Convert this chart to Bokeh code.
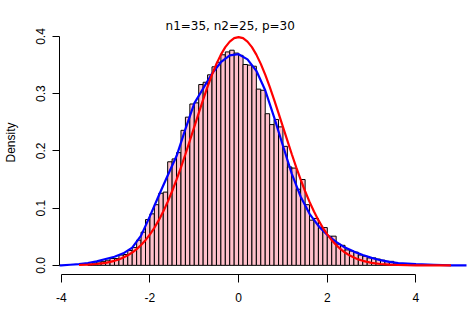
from bokeh.plotting import figure
from bokeh.models import Range1d, FixedTicker, Label
from bokeh.embed import file_html
from bokeh.resources import INLINE

# ---- data ----
title_text = "n1=35, n2=25, p=30"
y_axis_label = "Density"

bin_left = [-3.4, -3.3, -3.2, -3.1, -3.0, -2.9, -2.8, -2.7, -2.6, -2.5,
            -2.4, -2.3, -2.2, -2.1, -2.0, -1.9, -1.8, -1.7, -1.6, -1.5,
            -1.4, -1.3, -1.2, -1.1, -1.0, -0.9, -0.8, -0.7, -0.6, -0.5,
            -0.4, -0.3, -0.2, -0.1, 0.0, 0.1, 0.2, 0.3, 0.4, 0.5,
            0.6, 0.7, 0.8, 0.9, 1.0, 1.1, 1.2, 1.3, 1.4, 1.5,
            1.6, 1.7, 1.8, 1.9, 2.0, 2.1, 2.2, 2.3, 2.4, 2.5,
            2.6, 2.7, 2.8, 2.9, 3.0, 3.1, 3.2, 3.3, 3.4, 3.5]
bin_width = 0.1
density = [0.001, 0.004, 0.006, 0.007, 0.009, 0.012, 0.012, 0.018, 0.019, 0.026,
           0.031, 0.044, 0.058, 0.080, 0.090, 0.106, 0.126, 0.128, 0.181, 0.186,
           0.197, 0.236, 0.259, 0.282, 0.284, 0.316, 0.320, 0.333, 0.347, 0.355,
           0.368, 0.373, 0.376, 0.371, 0.367, 0.351, 0.350, 0.348, 0.308, 0.306,
           0.265, 0.246, 0.255, 0.242, 0.208, 0.172, 0.170, 0.133, 0.150, 0.106,
           0.079, 0.082, 0.066, 0.066, 0.051, 0.051, 0.037, 0.035, 0.027, 0.025,
           0.023, 0.018, 0.016, 0.013, 0.013, 0.011, 0.009, 0.007, 0.007, 0.004]

# kernel density estimate (blue)
kde_x = [-4.2, -4.0, -3.8, -3.6, -3.4, -3.2, -3.0, -2.8, -2.6, -2.4,
         -2.2, -2.0, -1.8, -1.6, -1.4, -1.2, -1.0, -0.8, -0.6, -0.4,
         -0.2, 0.0, 0.2, 0.4, 0.6, 0.8, 1.0, 1.2, 1.4, 1.6,
         1.8, 2.0, 2.2, 2.4, 2.6, 2.8, 3.0, 3.2, 3.4, 3.6,
         3.8, 4.0, 4.4, 4.8, 5.3]
kde_y = [0.000, 0.000, 0.001, 0.002, 0.004, 0.007, 0.011, 0.015, 0.021, 0.031,
         0.052, 0.086, 0.122, 0.157, 0.191, 0.238, 0.283, 0.309, 0.335, 0.355,
         0.367, 0.369, 0.360, 0.340, 0.306, 0.259, 0.209, 0.160, 0.120, 0.090,
         0.069, 0.053, 0.041, 0.031, 0.024, 0.018, 0.013, 0.009, 0.006, 0.004,
         0.003, 0.002, 0.001, 0.000, 0.000]

# normal density (red)
norm_x = [-3.6, -3.4, -3.2, -3.0, -2.9, -2.8, -2.7, -2.6, -2.5, -2.4,
          -2.3, -2.2, -2.1, -2.0, -1.9, -1.8, -1.7, -1.6, -1.5, -1.4,
          -1.3, -1.2, -1.1, -1.0, -0.9, -0.8, -0.7, -0.6, -0.5, -0.4,
          -0.3, -0.2, -0.1, 0.0, 0.1, 0.2, 0.3, 0.4, 0.5, 0.6,
          0.7, 0.8, 0.9, 1.0, 1.1, 1.2, 1.3, 1.4, 1.5, 1.6,
          1.7, 1.8, 1.9, 2.0, 2.1, 2.2, 2.3, 2.4, 2.5, 2.6,
          2.7, 2.8, 2.9, 3.0, 3.2, 3.4, 3.6, 3.8, 4.0, 4.4, 4.79]
norm_y = [0.0006, 0.0012, 0.0024, 0.0044, 0.0060, 0.0079, 0.0104, 0.0136, 0.0175, 0.0224,
          0.0283, 0.0355, 0.0440, 0.0540, 0.0656, 0.0790, 0.0940, 0.1109, 0.1295, 0.1497,
          0.1714, 0.1942, 0.2179, 0.2420, 0.2661, 0.2897, 0.3123, 0.3332, 0.3521, 0.3683,
          0.3814, 0.3910, 0.3970, 0.3989, 0.3970, 0.3910, 0.3814, 0.3683, 0.3521, 0.3332,
          0.3123, 0.2897, 0.2661, 0.2420, 0.2179, 0.1942, 0.1714, 0.1497, 0.1295, 0.1109,
          0.0940, 0.0790, 0.0656, 0.0540, 0.0440, 0.0355, 0.0283, 0.0224, 0.0175, 0.0136,
          0.0104, 0.0079, 0.0060, 0.0044, 0.0024, 0.0012, 0.0006, 0.0003, 0.0001, 0.0000, 0.0000]

x_ticks = [-4, -2, 0, 2, 4]
x_tick_labels = ["-4", "-2", "0", "2", "4"]
y_ticks = [0.0, 0.1, 0.2, 0.3, 0.4]
y_tick_labels = ["0.0", "0.1", "0.2", "0.3", "0.4"]

# ---- figure ----
p = figure(width=472, height=318, output_backend="svg", toolbar_location=None,
           x_range=Range1d(-4.04, 5.14), y_range=Range1d(-0.016, 0.4454),
           min_border_left=59, min_border_right=6, min_border_top=10,
           min_border_bottom=44)
p.outline_line_color = None
p.xgrid.visible = False
p.ygrid.visible = False
p.background_fill_color = "white"
p.border_fill_color = "white"

bin_right = [b + bin_width for b in bin_left]
p.quad(left=bin_left, right=bin_right, bottom=0, top=density,
       fill_color="#FFC0CB", line_color="black", line_width=1)
p.line(kde_x, kde_y, line_color="#0000FF", line_width=2.2)
p.line(norm_x, norm_y, line_color="#FF0000", line_width=2.2)

font = "Liberation Sans"
xa = p.xaxis[0]
xa.ticker = FixedTicker(ticks=x_ticks, minor_ticks=[])
xa.major_label_overrides = {t: l for t, l in zip(x_ticks, x_tick_labels)}
xa.bounds = (x_ticks[0], x_ticks[-1])
xa.major_tick_in = 0
xa.major_tick_out = 8
xa.major_label_standoff = 10
xa.major_label_text_font = font
xa.major_label_text_font_size = "12px"
xa.major_label_text_color = "black"
xa.axis_line_color = "black"
xa.major_tick_line_color = "black"

ya = p.yaxis[0]
ya.ticker = FixedTicker(ticks=y_ticks, minor_ticks=[])
ya.major_label_overrides = {t: l for t, l in zip(y_ticks, y_tick_labels)}
ya.bounds = (y_ticks[0], y_ticks[-1])
ya.major_tick_in = 0
ya.major_tick_out = 7
ya.major_label_standoff = 7
ya.major_label_orientation = "parallel"
ya.major_label_text_font = font
ya.major_label_text_font_size = "12px"
ya.major_label_text_color = "black"
ya.axis_line_color = "black"
ya.major_tick_line_color = "black"
ya.axis_label = y_axis_label
ya.axis_label_text_font = font
ya.axis_label_text_font_size = "12px"
ya.axis_label_text_font_style = "normal"
ya.axis_label_text_color = "black"
ya.axis_label_standoff = 16

p.add_layout(Label(x=-0.19, y=0.419, text=title_text, text_align="center",
                   text_baseline="alphabetic", text_font="DejaVu Sans",
                   text_font_size="12px", text_color="black"))

open("out.html", "w").write(file_html(p, INLINE))
